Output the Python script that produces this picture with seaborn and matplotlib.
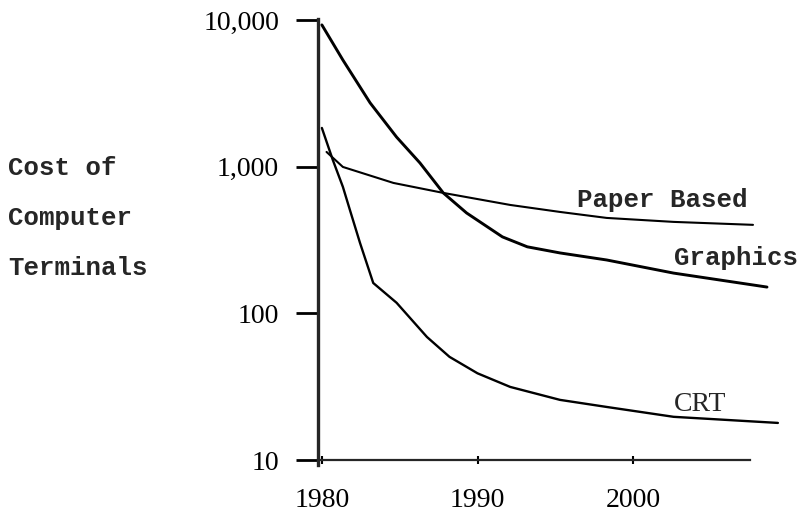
import numpy as np
import pandas as pd
import matplotlib
matplotlib.use('Agg')
import matplotlib.pyplot as plt
import matplotlib.ticker as ticker
import seaborn as sns

# values (log scale)
graphics_year = [1980.0, 1981.35, 1983.1, 1984.8, 1986.3, 1987.8, 1989.3, 1991.6, 1993.2, 1995.3, 1998.3, 2002.6, 2008.6]
graphics_cost = [9250, 5330, 2720, 1590, 1060, 662, 483, 332, 284, 258, 231, 188, 151]

paper_year = [1980.3, 1981.35, 1984.6, 1987.8, 1992.1, 1995.3, 1998.3, 2002.6, 2007.7]
paper_cost = [1259, 995, 774, 662, 548, 491, 447, 420, 401]

crt_year = [1980.0, 1980.7, 1981.35, 1981.8, 1982.45, 1983.3, 1984.8, 1986.75, 1988.2, 1990.0,
            1992.1, 1995.3, 1998.3, 2002.6, 2009.3]
crt_cost = [1835, 1112, 728, 507, 302, 161, 118, 69, 50.5, 39, 31.5, 25.7, 23, 19.7, 17.9]

year_ticks = [1980, 1990, 2000]
cost_ticks = [10, 100, 1000, 10000]
cost_labels = ['10', '100', '1,000', '10,000']

sns.set_theme(style='white')
plt.rcParams['font.family'] = ['Liberation Mono', 'DejaVu Sans Mono']
serif = ['Liberation Serif', 'DejaVu Serif']

fig = plt.figure(figsize=(8.04, 5.2), dpi=100)
ax = fig.add_axes([0.3955, 0.1058, 0.5759, 0.8577])

sns.lineplot(x=graphics_year, y=graphics_cost, ax=ax, color='black', lw=2.1, clip_on=False)
sns.lineplot(x=paper_year, y=paper_cost, ax=ax, color='black', lw=1.5, clip_on=False)
sns.lineplot(x=crt_year, y=crt_cost, ax=ax, color='black', lw=1.7, clip_on=False)

ax.set_yscale('log')
ax.set_ylim(9.25, 10150)
ax.set_xlim(1979.75, 2009.5)

ax.spines['top'].set_visible(False)
ax.spines['right'].set_visible(False)
ax.spines['left'].set_linewidth(2.4)
ax.spines['bottom'].set_linewidth(1.6)
ax.spines['bottom'].set_position(('data', 10))
ax.spines['bottom'].set_bounds(1979.75, 2007.5)

ax.yaxis.set_major_locator(ticker.FixedLocator(cost_ticks))
ax.yaxis.set_major_formatter(ticker.FixedFormatter(cost_labels))
ax.yaxis.set_minor_locator(ticker.NullLocator())
ax.xaxis.set_major_locator(ticker.FixedLocator(year_ticks))

ax.tick_params(axis='y', which='major', left=True, direction='out', length=16,
               width=2, pad=12, colors='black')
ax.tick_params(axis='x', which='major', bottom=True, direction='inout', length=6,
               width=1.5, pad=17, colors='black')
for lab in ax.get_yticklabels() + ax.get_xticklabels():
    lab.set_family(serif)
    lab.set_fontsize(20)

ax.set_xlabel('')
ax.set_ylabel('')

ax.text(1996.4, 593, 'Paper Based', fontsize=18.5, fontweight='bold', va='center', ha='left')
ax.text(2002.6, 239, 'Graphics', fontsize=18.5, fontweight='bold', va='center', ha='left')
ax.text(2002.6, 23.8, 'CRT', fontsize=20, va='center', ha='left', family=serif)

fig.text(8 / 804, 1 - 168 / 520, 'Cost of', fontsize=18.5, fontweight='bold', va='center', ha='left')
fig.text(8 / 804, 1 - 218 / 520, 'Computer', fontsize=18.5, fontweight='bold', va='center', ha='left')
fig.text(8 / 804, 1 - 268 / 520, 'Terminals', fontsize=18.5, fontweight='bold', va='center', ha='left')

fig.savefig('out.png', dpi=100, facecolor='white')
